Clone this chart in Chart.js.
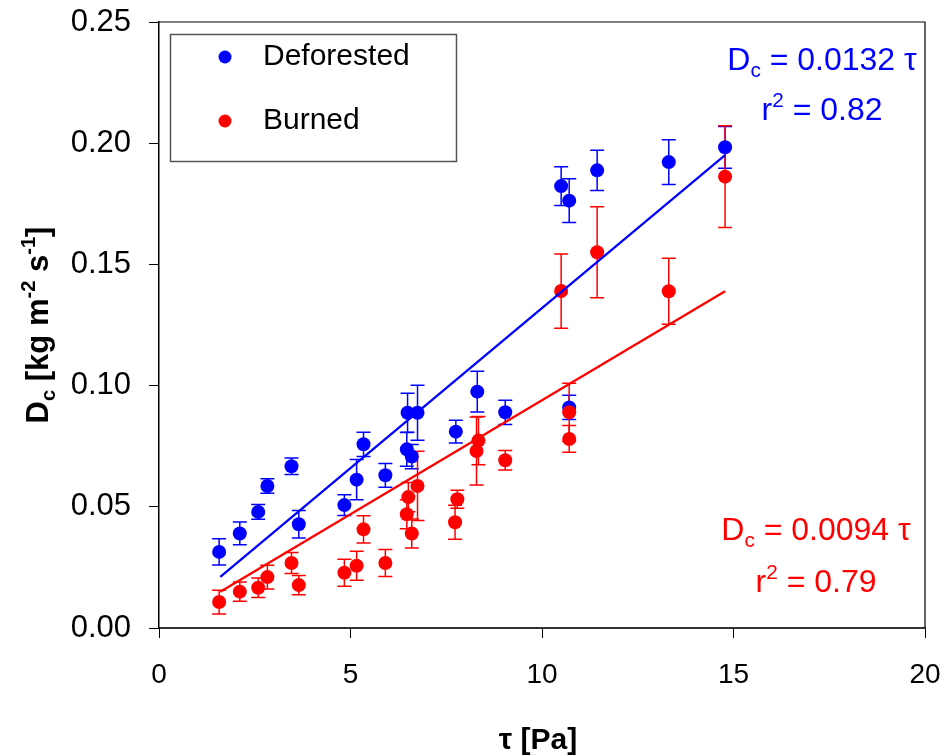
<!DOCTYPE html>
<html>
<head>
<meta charset="utf-8">
<script src="https://cdn.jsdelivr.net/npm/chart.js@4"></script>
<style>
  body { margin: 0; background: #fff; }
</style>
</head>
<body>
<canvas id="chart" width="951" height="756"></canvas>
<script>
// Data
const blueX   = [1.57, 2.11, 2.59, 2.83, 3.46, 3.65, 4.84, 5.16, 5.34, 5.91, 6.47, 6.49, 6.60, 6.75, 7.75, 8.31, 9.04, 10.50, 10.71, 10.71, 11.44, 13.31, 14.78];
const blueY   = [0.0314, 0.0390, 0.0479, 0.0586, 0.0667, 0.0428, 0.0507, 0.0612, 0.0758, 0.0630, 0.0737, 0.0888, 0.0707, 0.0888, 0.0810, 0.0975, 0.0890, 0.1823, 0.1763, 0.0910, 0.1888, 0.1922, 0.1983];
const blueErr = [0.0054, 0.0047, 0.0030, 0.0030, 0.0034, 0.0057, 0.0043, 0.0083, 0.0050, 0.0049, 0.0070, 0.0080, 0.0050, 0.0113, 0.0047, 0.0084, 0.0050, 0.0080, 0.0090, 0.0050, 0.0083, 0.0092, 0.0086];

const redX   = [1.57, 2.11, 2.59, 2.83, 3.46, 3.65, 4.84, 5.16, 5.34, 5.91, 6.47, 6.51, 6.60, 6.75, 7.73, 7.79, 8.29, 8.34, 9.04, 10.50, 10.71, 10.71, 11.44, 13.31, 14.78];
const redY   = [0.0107, 0.0150, 0.0166, 0.0210, 0.0268, 0.0177, 0.0228, 0.0257, 0.0407, 0.0268, 0.0469, 0.0540, 0.0390, 0.0586, 0.0436, 0.0531, 0.0730, 0.0773, 0.0692, 0.1390, 0.0890, 0.0780, 0.1550, 0.1389, 0.1862];
const redErr = [0.0049, 0.0040, 0.0040, 0.0049, 0.0043, 0.0040, 0.0056, 0.0060, 0.0056, 0.0056, 0.0060, 0.0060, 0.0060, 0.0143, 0.0070, 0.0037, 0.0140, 0.0100, 0.0040, 0.0153, 0.0120, 0.0055, 0.0188, 0.0136, 0.0210];

// regression line end points
const blueFitX = [1.6, 14.78];
const blueFitY = [0.0211, 0.1951];
const redFitX  = [1.6, 14.78];
const redFitY  = [0.0150, 0.1389];

const seriesNames = ['Deforested', 'Burned'];
const xTicks = [0, 5, 10, 15, 20];
const yTicks = [0, 0.05, 0.10, 0.15, 0.20, 0.25];

const BLUE = '#0000ff';
const RED = '#ff0000';
const FONT = "'Liberation Sans', Arial, sans-serif";

const toPoints = (xs, ys) => xs.map((x, i) => ({ x, y: ys[i] }));

// text with sub/superscripts: [text, sizeFactor, shiftInEm]
function runsWidth(ctx, runs, size, weight) {
    let w = 0;
    runs.forEach(([t, f]) => {
        ctx.font = `${weight} ${size * f}px ${FONT}`;
        w += ctx.measureText(t).width;
    });
    return w;
}

function drawRuns(ctx, runs, cx, baseY, size, weight, color) {
    const w = runsWidth(ctx, runs, size, weight);
    let x = cx - w / 2;
    ctx.fillStyle = color;
    ctx.textAlign = 'left';
    ctx.textBaseline = 'alphabetic';
    runs.forEach(([t, f, dy]) => {
        ctx.font = `${weight} ${size * f}px ${FONT}`;
        ctx.fillText(t, x, baseY + dy * size);
        x += ctx.measureText(t).width;
    });
}

const errorBars = {
    id: 'errorBars',
    beforeDatasetsDraw(chart) {
        const { ctx, scales: { x, y } } = chart;
        ctx.save();
        ctx.lineWidth = 1.5;
        [[blueX, blueY, blueErr, BLUE], [redX, redY, redErr, RED]].forEach(([xs, ys, es, col]) => {
            ctx.strokeStyle = col;
            xs.forEach((v, i) => {
                const px = x.getPixelForValue(v);
                const top = y.getPixelForValue(ys[i] + es[i]);
                const bot = y.getPixelForValue(ys[i] - es[i]);
                ctx.beginPath();
                ctx.moveTo(px, top); ctx.lineTo(px, bot);
                ctx.moveTo(px - 7, top); ctx.lineTo(px + 7, top);
                ctx.moveTo(px - 7, bot); ctx.lineTo(px + 7, bot);
                ctx.stroke();
            });
        });
        ctx.restore();
    }
};

const decorations = {
    id: 'decorations',
    afterDraw(chart) {
        const { ctx, chartArea: a } = chart;
        ctx.save();

        // top and right frame
        ctx.strokeStyle = '#000';
        ctx.lineWidth = 1.2;
        ctx.beginPath();
        ctx.moveTo(a.left, a.top); ctx.lineTo(a.right, a.top); ctx.lineTo(a.right, a.bottom);
        ctx.stroke();

        // legend box
        ctx.strokeStyle = '#555';
        ctx.lineWidth = 1.5;
        ctx.strokeRect(170.5, 34.5, 286, 127);
        [[BLUE, 57], [RED, 121]].forEach(([col, yy], i) => {
            ctx.fillStyle = col;
            ctx.beginPath();
            ctx.arc(225, yy, 6.5, 0, Math.PI * 2);
            ctx.fill();
            ctx.fillStyle = '#000';
            ctx.font = `30px ${FONT}`;
            ctx.textAlign = 'left';
            ctx.textBaseline = 'middle';
            ctx.fillText(seriesNames[i], 263, yy);
        });

        // regression equations
        drawRuns(ctx, [['D', 1, 0], ['c', 0.65, 0.22], [' = 0.0132 τ', 1, 0]], 822, 70, 32, 'normal', BLUE);
        drawRuns(ctx, [['r', 1, 0], ['2', 0.65, -0.42], [' = 0.82', 1, 0]], 822, 120, 32, 'normal', BLUE);
        drawRuns(ctx, [['D', 1, 0], ['c', 0.65, 0.22], [' = 0.0094 τ', 1, 0]], 816, 540, 32, 'normal', RED);
        drawRuns(ctx, [['r', 1, 0], ['2', 0.65, -0.42], [' = 0.79', 1, 0]], 816, 592, 32, 'normal', RED);

        // axis titles
        drawRuns(ctx, [['τ [Pa]', 1, 0]], (a.left + a.right) / 2 - 4, 749, 30, 'bold', '#000');
        ctx.translate(48, (a.top + a.bottom) / 2);
        ctx.rotate(-Math.PI / 2);
        drawRuns(ctx, [['D', 1, 0], ['c', 0.65, 0.22], [' [kg m', 1, 0], ['-2', 0.65, -0.42],
                       [' s', 1, 0], ['-1', 0.65, -0.42], [']', 1, 0]], 0, 0, 31, 'bold', '#000');
        ctx.restore();
    }
};

new Chart(document.getElementById('chart'), {
    type: 'scatter',
    data: {
        datasets: [
            { type: 'line', data: toPoints(blueFitX, blueFitY), borderColor: BLUE, borderWidth: 2.3, pointRadius: 0, fill: false, order: 0 },
            { type: 'line', data: toPoints(redFitX, redFitY), borderColor: RED, borderWidth: 2.3, pointRadius: 0, fill: false, order: 0 },
            { label: seriesNames[1], data: toPoints(redX, redY), backgroundColor: RED, borderWidth: 0, pointRadius: 7, order: 1 },
            { label: seriesNames[0], data: toPoints(blueX, blueY), backgroundColor: BLUE, borderWidth: 0, pointRadius: 7, order: 2 }
        ]
    },
    options: {
        responsive: false,
        animation: false,
        layout: { padding: { top: 22, right: 26, left: 0, bottom: 0 } },
        plugins: { legend: { display: false }, tooltip: { enabled: false } },
        scales: {
            x: {
                type: 'linear', min: 0, max: 20,
                afterFit: s => { s.height = 128; s.paddingLeft = 0; s.paddingRight = 0; },
                afterBuildTicks: s => { s.ticks = xTicks.map(v => ({ value: v })); },
                ticks: { color: '#000', font: { family: FONT, size: 28 }, padding: 20, maxRotation: 0 },
                grid: { drawOnChartArea: false, tickLength: 10, color: '#000', lineWidth: 1 },
                border: { color: '#333', width: 2 }
            },
            y: {
                min: 0, max: 0.25,
                afterFit: s => { s.width = 159; s.paddingTop = 0; s.paddingBottom = 0; },
                afterBuildTicks: s => { s.ticks = yTicks.map(v => ({ value: v })); },
                ticks: { color: '#000', font: { family: FONT, size: 31 }, padding: 18, callback: v => v.toFixed(2) },
                grid: { drawOnChartArea: false, tickLength: 10, color: '#000', lineWidth: 1 },
                border: { color: '#000', width: 1.5 }
            }
        }
    },
    plugins: [errorBars, decorations]
});
</script>
</body>
</html>
